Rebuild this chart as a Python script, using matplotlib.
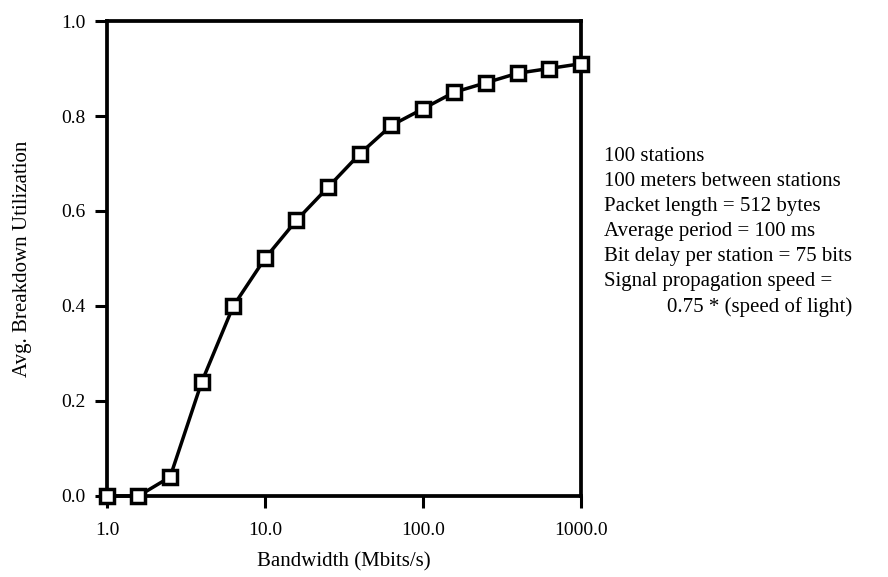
import matplotlib.pyplot as plt
import numpy as np

bandwidth = [1.0, 1.58, 2.51, 3.98, 6.31, 10.0, 15.8, 25.1, 39.8, 63.1,
             100.0, 158.0, 251.0, 398.0, 631.0, 1000.0]
utilization = [0.0, 0.0, 0.04, 0.24, 0.40, 0.50, 0.58, 0.65, 0.72, 0.78,
               0.815, 0.85, 0.87, 0.89, 0.90, 0.91]

x_ticks = [1, 10, 100, 1000]
x_ticklabels = ['1.0', '10.0', '100.0', '1000.0']
y_ticks = [0.0, 0.2, 0.4, 0.6, 0.8, 1.0]
y_ticklabels = ['0.0', '0.2', '0.4', '0.6', '0.8', '1.0']

notes = ['100 stations',
         '100 meters between stations',
         'Packet length = 512 bytes',
         'Average period = 100 ms',
         'Bit delay per station = 75 bits',
         'Signal propagation speed =',
         '            0.75 * (speed of light)']

plt.rcParams['font.family'] = ['Liberation Serif', 'DejaVu Serif']

fig = plt.figure(figsize=(8.88, 5.77), dpi=100)
ax = fig.add_axes([0.1205, 0.1404, 0.654 - 0.1205, 0.9636 - 0.1404])

ax.plot(bandwidth, utilization, color='black', lw=2.5, marker='s',
        markersize=10, markerfacecolor='white', markeredgecolor='black',
        markeredgewidth=2.5, clip_on=False, zorder=5)

ax.set_xscale('log')
ax.set_xlim(1, 1000)
ax.set_ylim(0, 1.0)
ax.set_xticks(x_ticks)
ax.set_xticklabels(x_ticklabels)
ax.xaxis.set_minor_locator(plt.NullLocator())
ax.set_yticks(y_ticks)
ax.set_yticklabels(y_ticklabels)

for s in ax.spines.values():
    s.set_linewidth(2.7)
ax.tick_params(axis='both', direction='out', length=8.5, width=2.2,
               labelsize=14, colors='black')
ax.tick_params(axis='x', pad=10)
ax.tick_params(axis='y', pad=7)

ax.set_xlabel('Bandwidth (Mbits/s)', fontsize=15, labelpad=10)
ax.set_ylabel('Avg. Breakdown Utilization', fontsize=15, labelpad=21)

fig.text(0.680, 0.745, '\n'.join(notes), fontsize=15, va='top', ha='left',
         linespacing=1.42)

fig.savefig('out.png', dpi=100)
